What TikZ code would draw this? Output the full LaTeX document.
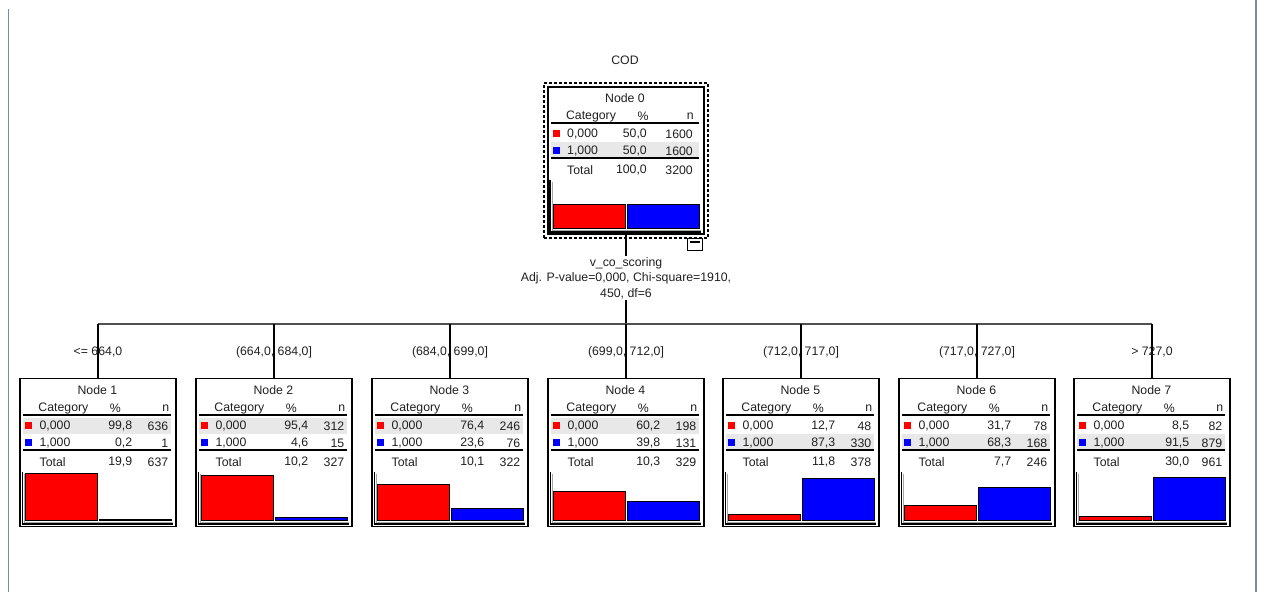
\documentclass[tikz,border=0pt]{standalone}
\usepackage{fontspec}
\setmainfont{Liberation Sans}
\usetikzlibrary{fit, positioning}
\definecolor{cred}{HTML}{FF0000}
\definecolor{cblue}{HTML}{0000FF}
\definecolor{crow}{HTML}{E8E8E8}
\definecolor{cside}{HTML}{7F8C99}
\definecolor{cline}{HTML}{505050}
\definecolor{ctxt}{HTML}{202020}
\begin{document}
\begin{tikzpicture}[x=1pt, y=-1pt, font=\fontsize{12.3}{14}\selectfont\color{ctxt},
    tbox/.style={rectangle, draw=black, line width=1.2pt, minimum width=156pt, minimum height=148pt, anchor=north, inner sep=0pt},
    cell/.style={inner sep=0pt},
    edge/.style={black, line width=1.6pt}]
    \useasboundingbox (0,0) rectangle (1262,592);
    \draw[cside, line width=1.5pt] (8.5,9) -- (8.5,592);
    \draw[cside, line width=1.5pt] (1256,0) -- (1256,592);
    % root
    \node (cod) at (625,60) {COD};
    \node (n0) [tbox, line width=2pt, minimum height=147pt] at (626,86) {};
    \node (sel) [draw=black, dash pattern=on 3pt off 2pt, line width=1.2pt, fit=(n0), inner sep=3pt] {};
    \node (btn) [draw=black, line width=1pt, minimum width=15pt, minimum height=12pt, inner sep=0pt, anchor=north east] at (703,238) {};
    \draw[line width=1.5pt] ([xshift=3pt, yshift=-4pt]btn.north west) -- ([xshift=-3pt, yshift=-4pt]btn.north east);
    % children
    \foreach \i/\x in {1/98, 2/274, 3/450, 4/626, 5/801, 6/977, 7/1152} \node (n\i) [tbox] at (\x,378) {};
    % tables
    \foreach \i/\pa/\na/\pb/\nb/\pt/\nt/\ha/\hb/\hl/\pc/\nc in {
        0/{50,0}/1600/{50,0}/1600/{100,0}/3200/50/50/1/100/146,
        1/{99,8}/636/{0,2}/1/{19,9}/637/99.8/0.2/0/113/149,
        2/{95,4}/312/{4,6}/15/{10,2}/327/95.4/4.6/0/113/149,
        3/{76,4}/246/{23,6}/76/{10,1}/322/76.4/23.6/0/113/149,
        4/{60,2}/198/{39,8}/131/{10,3}/329/60.2/39.8/0/113/149,
        5/{12,7}/48/{87,3}/330/{11,8}/378/12.7/87.3/1/113/149,
        6/{31,7}/78/{68,3}/168/{7,7}/246/31.7/68.3/1/113/149,
        7/{8,5}/82/{91,5}/879/{30,0}/961/8.5/91.5/1/116/149}
    {
        \begin{scope}[shift={(n\i.north west)}]
            \fill[crow] (4,{40+16*\hl}) rectangle (152,{56+16*\hl});
            \node[cell] at (78,12) {Node \i};
            \node[cell] at (44,30.5) {Category};
            \node[cell] at (96,30.5) {\%};
            \node[cell, anchor=east] at (\nc+1,30.5) {n};
            \draw[line width=1.5pt] (4,37) -- (152,37);
            \fill[cred] (6,44) rectangle (13,51);
            \fill[cblue] (6,61) rectangle (13,68);
            \node[cell, anchor=west] at (20,48) {0,000};
            \node[cell, anchor=east] at (\pc,48) {\pa};
            \node[cell, anchor=east] at (\nc,48) {\na};
            \node[cell, anchor=west] at (20,65) {1,000};
            \node[cell, anchor=east] at (\pc,65) {\pb};
            \node[cell, anchor=east] at (\nc,65) {\nb};
            \draw[line width=1.5pt] (4,72) -- (152,72);
            \node[cell, anchor=west] at (20,84) {Total};
            \node[cell, anchor=east] at (\pc,84) {\pt};
            \node[cell, anchor=east] at (\nc,84) {\nt};
            \draw[gray!70, line width=1pt] (5,96) -- (5,144) -- (154,144);
            \draw[line width=1.2pt] (3,94) -- (3,146) -- (154,146);
            \draw[fill=cred, line width=1pt] (6,142) rectangle (78,{142-0.47*\ha});
            \draw[fill=cblue, line width=1pt] (80,142) rectangle (152,{142-0.47*\hb});
        \end{scope}
    }
    % connectors
    \node (split) [align=center, inner sep=1pt, font=\fontsize{12.3}{15.5}\selectfont\color{ctxt}] at (626,278) {v\_co\_scoring\\Adj. P-value=0,000, Chi-square=1910,\\450, df=6};
    \coordinate (j) at (626,324);
    \draw[edge] (n0.south) -- (split.north);
    \draw[edge] (split.south) -- (j);
    \draw[cline, line width=1.2pt] (j -| n1.north) -- (j -| n7.north);
    \foreach \i in {1,...,7} \draw[edge] (j -| n\i.north) -- (n\i.north);
    \foreach \i/\t in {1/{<= 664,0}, 2/{(664,0, 684,0]}, 3/{(684,0, 699,0]}, 4/{(699,0, 712,0]},
        5/{(712,0, 717,0]}, 6/{(717,0, 727,0]}, 7/{> 727,0}}
        \node (c\i) at ([yshift=26pt]n\i.north) {\t};
\end{tikzpicture}
\end{document}
